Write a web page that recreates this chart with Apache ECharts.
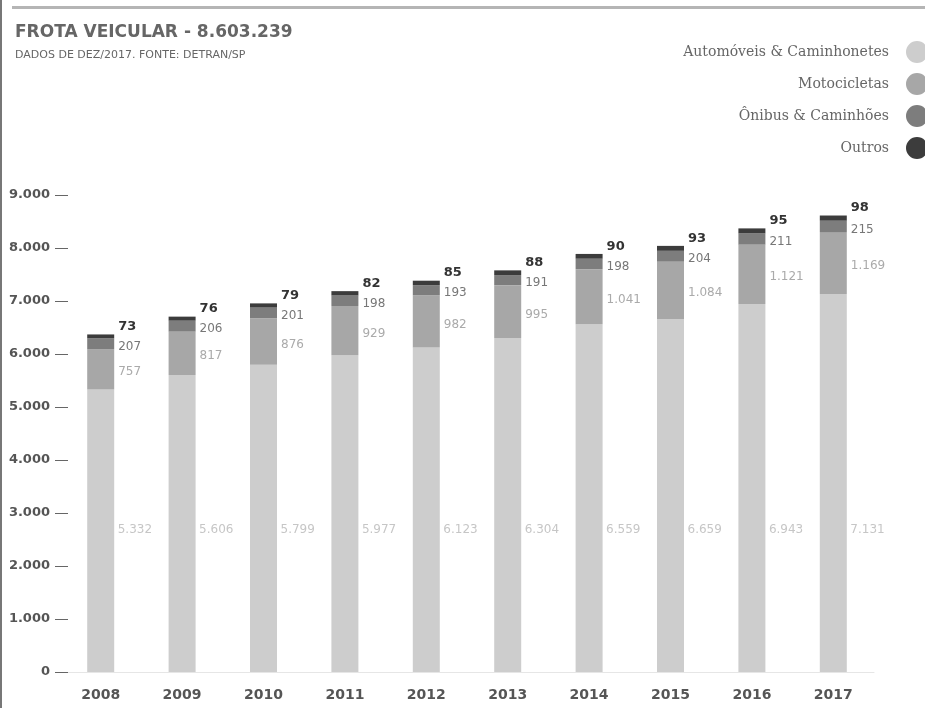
<!DOCTYPE html>
<html lang="pt-BR">
<head>
<meta charset="UTF-8">
<title>Frota veicular</title>
<script src="https://cdn.jsdelivr.net/npm/echarts@6/dist/echarts.min.js"></script>
<style>
  html, body { margin: 0; padding: 0; background: #fff; }
  #main { width: 925px; height: 708px; }
</style>
</head>
<body>
<div id="main"></div>
<script>
var anos = ['2008', '2009', '2010', '2011', '2012', '2013', '2014', '2015', '2016', '2017'];
var automoveis = [5332, 5606, 5799, 5977, 6123, 6304, 6559, 6659, 6943, 7131];
var motocicletas = [757, 817, 876, 929, 982, 995, 1041, 1084, 1121, 1169];
var onibus = [207, 206, 201, 198, 193, 191, 198, 204, 211, 215];
var outros = [73, 76, 79, 82, 85, 88, 90, 93, 95, 98];

var sans = '"DejaVu Sans", sans-serif';

// separador de milhar com ponto
function fmt(n) {
    var s = String(Math.round(n));
    return s.replace(/\B(?=(\d{3})+(?!\d))/g, '.');
}

var myChart = echarts.init(document.getElementById('main'));

var option = {
    animation: false,
    title: {
        text: 'FROTA VEICULAR - 8.603.239',
        subtext: 'DADOS DE DEZ/2017. FONTE: DETRAN/SP',
        left: 10,
        top: 19,
        itemGap: 9,
        textStyle: { fontFamily: sans, fontSize: 17, fontWeight: 'bold', color: '#666' },
        subtextStyle: { fontFamily: sans, fontSize: 11, color: '#666' }
    },
    legend: {
        orient: 'vertical',
        right: -8,
        top: 36,
        align: 'right',
        icon: 'circle',
        itemWidth: 22,
        itemHeight: 22,
        itemGap: 10,
        textStyle: { fontFamily: '"DejaVu Serif", serif', fontSize: 14, color: '#666', padding: [0, 12, 0, 0] },
        data: ['Automóveis & Caminhonetes', 'Motocicletas', 'Ônibus & Caminhões', 'Outros']
    },
    graphic: [
        { type: 'rect', shape: { x: 12, y: 6, width: 913, height: 3 }, style: { fill: '#b5b5b5' } },
        { type: 'rect', shape: { x: 0, y: 0, width: 2, height: 708 }, style: { fill: '#777' } }
    ],
    grid: { left: 60, right: 51, top: 195, bottom: 36 },
    xAxis: {
        type: 'category',
        data: anos,
        axisLine: { lineStyle: { color: '#e6e6e6', width: 1 } },
        axisTick: { show: false },
        axisLabel: { fontFamily: sans, fontSize: 14, fontWeight: 'bold', color: '#555', margin: 16 }
    },
    yAxis: {
        type: 'value',
        min: 0,
        max: 9000,
        interval: 1000,
        offset: -8,
        axisLine: { show: false },
        axisTick: { show: true, length: 13, lineStyle: { color: '#666', width: 1 } },
        splitLine: { show: false },
        axisLabel: {
            fontFamily: sans, fontSize: 13, fontWeight: 'bold', color: '#555', margin: 18,
            formatter: function (v) { return fmt(v); }
        }
    },
    series: [{
        name: 'Automóveis & Caminhonetes',
        type: 'bar',
        stack: 'frota',
        barWidth: 27,
        itemStyle: { color: '#cdcdcd' },
        label: {
            show: true,
            position: 'insideBottom',
            align: 'left',
            offset: [17, -131],
            fontFamily: sans, fontSize: 12, color: '#c6c6c6',
            formatter: function (p) { return fmt(p.value); }
        },
        data: automoveis
    }, {
        name: 'Motocicletas',
        type: 'bar',
        stack: 'frota',
        itemStyle: { color: '#a7a7a7' },
        label: {
            show: true,
            position: 'right',
            distance: 4,
            offset: [0, 3],
            fontFamily: sans, fontSize: 12, color: '#aaa',
            formatter: function (p) { return fmt(p.value); }
        },
        data: motocicletas
    }, {
        name: 'Ônibus & Caminhões',
        type: 'bar',
        stack: 'frota',
        itemStyle: { color: '#7d7d7d' },
        label: {
            show: true,
            position: 'right',
            distance: 4,
            offset: [0, 3],
            fontFamily: sans, fontSize: 12, color: '#777',
            formatter: function (p) { return fmt(p.value); }
        },
        data: onibus
    }, {
        name: 'Outros',
        type: 'bar',
        stack: 'frota',
        itemStyle: { color: '#3c3c3c' },
        label: {
            show: true,
            position: 'right',
            distance: 4,
            offset: [0, -10],
            fontFamily: sans, fontSize: 13, fontWeight: 'bold', color: '#333',
            formatter: function (p) { return fmt(p.value); }
        },
        data: outros
    }]
};

myChart.setOption(option);
</script>
</body>
</html>
